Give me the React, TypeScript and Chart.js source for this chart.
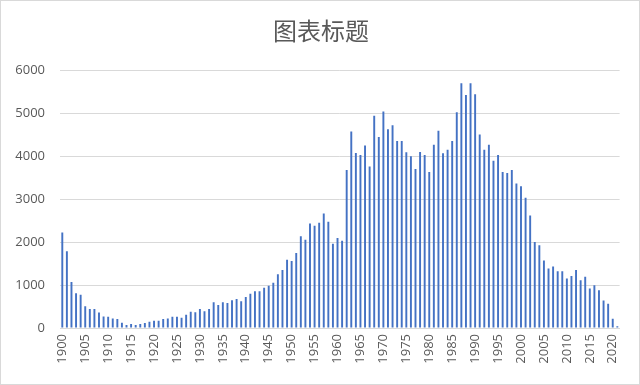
import React, { useEffect, useRef } from "react";
import { Chart, registerables } from "chart.js";

Chart.register(...registerables);

const startYear = 1900;
const endYear = 2021;

const years: string[] = [];
for (let y = startYear; y <= endYear; y++) years.push(String(y));

const values: number[] = [
  // 1900-1909
  2220, 1785, 1070, 810, 775, 505, 440, 440, 360, 270,
  // 1910-1919
  262, 223, 208, 123, 70, 92, 70, 92, 115, 146,
  // 1920-1929
  170, 170, 208, 223, 264, 264, 240, 310, 380, 364,
  // 1930-1939
  442, 388, 442, 597, 535, 597, 581, 643, 674, 620,
  // 1940-1949
  721, 798, 853, 853, 938, 984, 1054, 1248, 1349, 1589,
  // 1950-1959
  1560, 1745, 2131, 2054, 2432, 2378, 2448, 2664, 2471, 1961,
  // 1960-1969
  2093, 2031, 3676, 4571, 4070, 4023, 4247, 3753, 4934, 4440,
  // 1970-1979
  5035, 4625, 4718, 4347, 4347, 4090, 3992, 3699, 4093, 4023,
  // 1980-1989
  3629, 4263, 4587, 4062, 4147, 4347, 5019, 5691, 5421, 5691,
  // 1990-1999
  5436, 4502, 4147, 4263, 3892, 4023, 3629, 3606, 3676, 3359,
  // 2000-2009
  3297, 3027, 2618, 2000, 1923, 1568, 1382, 1429, 1320, 1320,
  // 2010-2019
  1151, 1212, 1351, 1112, 1189, 919, 996, 880, 641, 564,
  // 2020-2021
  216, 39,
];

const yTicks: number[] = [0, 1000, 2000, 3000, 4000, 5000, 6000];
const titleText = "图表标题";

const titlePlugin = {
  id: "centerTitle",
  afterDraw(chart: any) {
    const ctx = chart.ctx;
    ctx.save();
    ctx.fillStyle = "#595959";
    ctx.font = "24px 'Noto Sans CJK SC', sans-serif";
    ctx.textAlign = "center";
    ctx.textBaseline = "middle";
    ctx.fillText(titleText, chart.width / 2 + 1, 30);
    ctx.restore();
  },
};

export default function App() {
  const ref = useRef<HTMLCanvasElement | null>(null);

  useEffect(() => {
    document.body.style.margin = "0";
    if (!ref.current) return;
    const chart = new Chart(ref.current, {
      type: "bar",
      data: {
        labels: years,
        datasets: [
          {
            data: values,
            backgroundColor: "#4472C4",
            borderWidth: 0,
            barPercentage: 0.42,
            categoryPercentage: 1,
          },
        ],
      },
      plugins: [titlePlugin],
      options: {
        animation: false,
        responsive: false,
        maintainAspectRatio: false,
        layout: { padding: { left: 0, right: 19, top: 69, bottom: 0 } },
        plugins: {
          legend: { display: false },
          tooltip: { enabled: false },
          title: { display: false },
        },
        scales: {
          x: {
            grid: { display: false, drawTicks: false },
            border: { display: true, color: "#d9d9d9", width: 1 },
            ticks: {
              autoSkip: false,
              maxRotation: 90,
              minRotation: 90,
              padding: 6,
              color: "#595959",
              font: { family: "'Open Sans', sans-serif", size: 13 },
              callback: (_v: any, i: number) => {
                const y = Number(years[i]);
                return y % 5 === 0 ? years[i] : "";
              },
            },
            afterFit: (s: any) => {
              s.height = 56;
            },
          },
          y: {
            min: 0,
            max: 6000,
            afterBuildTicks: (s: any) => {
              s.ticks = yTicks.map((v) => ({ value: v }));
            },
            grid: { color: "#d9d9d9", drawTicks: false, lineWidth: 1 },
            border: { display: false },
            ticks: {
              padding: 15,
              color: "#595959",
              font: { family: "'Open Sans', sans-serif", size: 13 },
              callback: (v: any) => String(v),
            },
            afterFit: (s: any) => {
              s.width = 59;
            },
          },
        },
      },
    });
    return () => chart.destroy();
  }, []);

  return (
    <div
      style={{
        width: 640,
        height: 385,
        boxSizing: "border-box",
        border: "1px solid #d9d9d9",
        background: "#fff",
        position: "relative",
      }}
    >
      <canvas ref={ref} width={638} height={383} style={{ display: "block" }} />
    </div>
  );
}
